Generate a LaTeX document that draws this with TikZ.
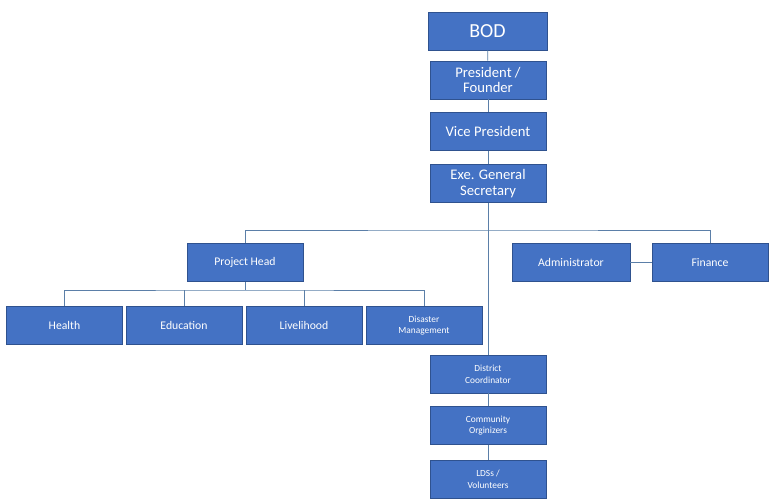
\documentclass[tikz,border=0pt]{standalone}
\usepackage{fontspec}
\setmainfont{Carlito}
\definecolor{boxblue}{HTML}{4472C4}
\definecolor{boxedge}{HTML}{2F528F}
\definecolor{linkblue}{HTML}{5B7FA8}

\begin{document}
\begin{tikzpicture}
  [x=0.03cm, y=-0.03cm,
   unit/.style = {
     draw=boxedge, fill=boxblue, text=white, align=center,
     minimum width=3.48cm, minimum height=1.15cm, inner sep=1pt
   },
   big/.style = {font=\fontsize{17}{19}\selectfont},
   mid/.style = {font=\fontsize{12.5}{15}\selectfont},
   small/.style = {font=\fontsize{10}{12}\selectfont},
   tiny/.style = {font=\fontsize{8}{10}\selectfont},
   link/.style = {draw=linkblue, line width=0.6pt}]

  \useasboundingbox (0,0) rectangle (779,500);

  % Top chain
  \node[unit, big, minimum width=3.57cm] at (487.5,31) (bod) {BOD};
  \node[unit, mid] at (488,80) (pres) {President /\\[-2pt] Founder};
  \node[unit, mid] at (488,131.5) (vp) {Vice President};
  \node[unit, mid] at (488,183.5) (egs) {Exe. General\\[-2pt] Secretary};

  % Second level
  \node[unit, small] at (245,262.5) (ph) {Project Head};
  \node[unit, small, minimum width=3.54cm] at (571,262.5) (admin) {Administrator};
  \node[unit, small] at (710,262.5) (fin) {Finance};

  % Projects
  \node[unit, small] at (64.5,325.5) (health) {Health};
  \node[unit, small] at (184,325.5) (edu) {Education};
  \node[unit, small] at (304,325.5) (live) {Livelihood};
  \node[unit, tiny] at (424,325.5) (dm) {Disaster\\ Management};

  % Field chain
  \node[unit, tiny] at (488,374) (dc) {District\\ Coordinator};
  \node[unit, tiny] at (488,425.5) (co) {Community\\ Orginizers};
  \node[unit, tiny] at (488,479) (lds) {LDSs /\\ Volunteers};

  \coordinate (hub) at (488,230);
  \coordinate (phub) at (245,290);

  % Connectors
  \draw[link] (bod) -- (pres);
  \draw[link] (pres) -- (vp);
  \draw[link] (vp) -- (egs);
  \draw[link] (egs) -- (dc);
  \draw[link] (ph.north) |- (hub) -| (fin.north);
  \draw[link] (admin) -- (fin);
  \draw[link] (ph) -- (phub);
  \draw[link] (health.north) |- (phub) -| (dm.north);
  \draw[link] (edu.north) -- (edu.north |- phub);
  \draw[link] (live.north) -- (live.north |- phub);
  \draw[link] (dc) -- (co);
  \draw[link] (co) -- (lds);

\end{tikzpicture}
\end{document}
